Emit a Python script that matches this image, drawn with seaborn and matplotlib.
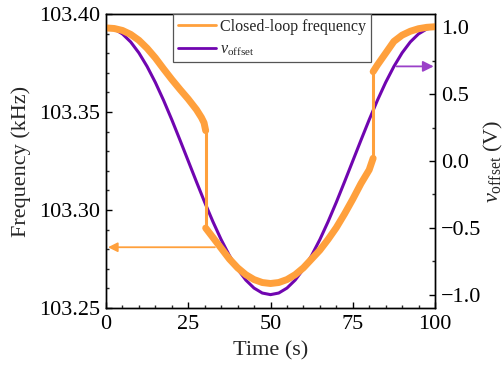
import matplotlib
matplotlib.use("Agg")
import matplotlib.pyplot as plt
from matplotlib.lines import Line2D
from matplotlib.ticker import MultipleLocator
import seaborn as sns
import pandas as pd

# ---------------- data ----------------
# Closed-loop frequency (kHz): upper-left branch, lower branch, upper-right branch
t_up_left = [0, 2.5, 5, 7.5, 10, 12.5, 15, 17.5, 20, 22.5, 25, 27.5, 29, 29.8, 30.3]
f_up_left = [103.3929, 103.3926, 103.3916, 103.3896, 103.3866, 103.3825, 103.3776,
             103.3720, 103.3666, 103.3615, 103.3566, 103.3512, 103.3472, 103.3445, 103.3405]

t_jump1 = [30.3, 30.3]
f_jump1 = [103.3405, 103.2908]

t_low = [30.3, 32.5, 35, 37.5, 40, 42.5, 45, 47.5, 50, 52.5, 55, 57.5, 60, 62.5,
         65, 67.5, 70, 72.5, 75, 77.5, 80, 81.2]
f_low = [103.2908, 103.2860, 103.2805, 103.2750, 103.2705, 103.2670, 103.2645, 103.2630,
         103.2625, 103.2630, 103.2645, 103.2670, 103.2705, 103.2750, 103.2795, 103.2850,
         103.2910, 103.2980, 103.3055, 103.3135, 103.3205, 103.3264]

t_jump2 = [81.2, 81.2]
f_jump2 = [103.3264, 103.3706]

t_up_right = [81.2, 82.5, 85, 87.5, 90, 92.5, 95, 97.5, 100]
f_up_right = [103.3706, 103.3740, 103.3800, 103.3860, 103.3892, 103.3912, 103.3925,
              103.3932, 103.3935]

# v_offset (V)
t_v = [0, 2.5, 5, 7.5, 10, 12.5, 15, 17.5, 20, 22.5, 25, 27.5, 30, 32.5, 35, 37.5, 40,
       42.5, 45, 47.5, 50, 52.5, 55, 57.5, 60, 62.5, 65, 67.5, 70, 72.5, 75, 77.5, 80,
       82.5, 85, 87.5, 90, 92.5, 95, 97.5, 100]
v_off = [1.000, 0.988, 0.951, 0.891, 0.809, 0.707, 0.588, 0.454, 0.309, 0.156, 0.000,
         -0.156, -0.309, -0.454, -0.588, -0.707, -0.809, -0.891, -0.951, -0.988, -1.000,
         -0.988, -0.951, -0.891, -0.809, -0.707, -0.588, -0.454, -0.309, -0.156, 0.000,
         0.156, 0.309, 0.454, 0.588, 0.707, 0.809, 0.891, 0.951, 0.988, 1.000]

x_ticks = [0, 25, 50, 75, 100]
y_left_ticks = [103.25, 103.30, 103.35, 103.40]
y_right_ticks = [-1.0, -0.5, 0.0, 0.5, 1.0]
legend_labels = ["Closed-loop frequency", r"$v_{\mathrm{offset}}$"]

# ---------------- style ----------------
sns.set_theme(style="ticks")
plt.rcParams["font.family"] = ["Liberation Serif", "DejaVu Serif"]
plt.rcParams["mathtext.fontset"] = "custom"
plt.rcParams["mathtext.rm"] = "Liberation Serif"
plt.rcParams["mathtext.it"] = "Liberation Serif:italic"

ORANGE = "#FFA03C"
PURPLE = "#7005B0"

fig = plt.figure(figsize=(5.03, 3.66), dpi=100)
ax = fig.add_axes([106 / 503, 1 - 308 / 366, (435 - 106) / 503, (308 - 14) / 366])
ax2 = ax.twinx()

# purple v_offset on right axis
sns.lineplot(data=pd.DataFrame({"t": t_v, "v": v_off}), x="t", y="v", ax=ax2,
             color=PURPLE, lw=2.2, sort=False, estimator=None)

# orange frequency on left axis
for tt, ff, lw in [(t_up_left, f_up_left, 5), (t_jump1, f_jump1, 2.2), (t_low, f_low, 5),
                   (t_jump2, f_jump2, 2.2), (t_up_right, f_up_right, 5)]:
    sns.lineplot(data=pd.DataFrame({"t": tt, "f": ff}), x="t", y="f", ax=ax,
                 color=ORANGE, lw=lw, sort=False, estimator=None,
                 solid_capstyle="round", solid_joinstyle="round")

ax.set_zorder(ax2.get_zorder() + 1)
ax.patch.set_visible(False)

ax.set_xlim(0, 100)
ax.set_ylim(103.25, 103.40)
ax2.set_ylim(-1.1, 1.1)

ax.set_xticks(x_ticks)
ax.set_yticks(y_left_ticks)
ax.set_yticklabels([f"{v:.2f}" for v in y_left_ticks])
ax2.set_yticks(y_right_ticks)
ax2.set_yticklabels([f"{v:.1f}".replace("-", "\u2212") for v in y_right_ticks])
ax.xaxis.set_minor_locator(MultipleLocator(5))
ax.yaxis.set_minor_locator(MultipleLocator(0.01))
ax2.yaxis.set_minor_locator(MultipleLocator(0.25))

for a in (ax, ax2):
    a.tick_params(which="major", direction="in", length=4, width=1, labelsize=16,
                  colors="black")
    a.tick_params(which="minor", direction="in", length=2.5, width=1)
    for s in a.spines.values():
        s.set_visible(True)
        s.set_linewidth(1.0)
        s.set_color("black")
ax.tick_params(axis="both", which="both", top=False, right=False)
ax.tick_params(axis="y", pad=4)
ax.tick_params(axis="x", pad=5)
ax2.tick_params(axis="y", which="both", left=False, right=True, pad=4.5)

ax.set_xlabel("Time (s)", fontsize=16, labelpad=5)
ax.set_ylabel("Frequency (kHz)", fontsize=16, labelpad=6)
ax2.set_ylabel(r"$v_{\mathrm{offset}}$ (V)", fontsize=16)
ax2.yaxis.set_label_coords((493 - 106) / 329, 0.5)
ax2.yaxis.label.set_va("center")
ax2.yaxis.label.set_ha("center")

# arrows indicating which axis each curve belongs to
ax.annotate("", xy=(0.6, 103.281), xytext=(33.1, 103.281),
            arrowprops=dict(arrowstyle="-|>", color=ORANGE, lw=1.3, mutation_scale=14,
                            shrinkA=0, shrinkB=0))
ax2.annotate("", xy=(99.6, 0.708), xytext=(88.3, 0.708),
             arrowprops=dict(arrowstyle="-|>", color="#9A40C8", lw=1.3, mutation_scale=16,
                             shrinkA=0, shrinkB=0))

handles = [Line2D([0], [0], color=ORANGE, lw=2),
           Line2D([0], [0], color=PURPLE, lw=2)]
leg = ax.legend(handles, legend_labels,
                loc="upper left", bbox_to_anchor=(0.2036, 1.0), borderaxespad=0,
                fontsize=11.5, frameon=True, fancybox=False, framealpha=1,
                edgecolor="#555555", handlelength=2.4, handletextpad=0.25,
                borderpad=0.3, labelspacing=0.4)
leg.get_frame().set_linewidth(0.9)

fig.savefig("out.png", dpi=100)
